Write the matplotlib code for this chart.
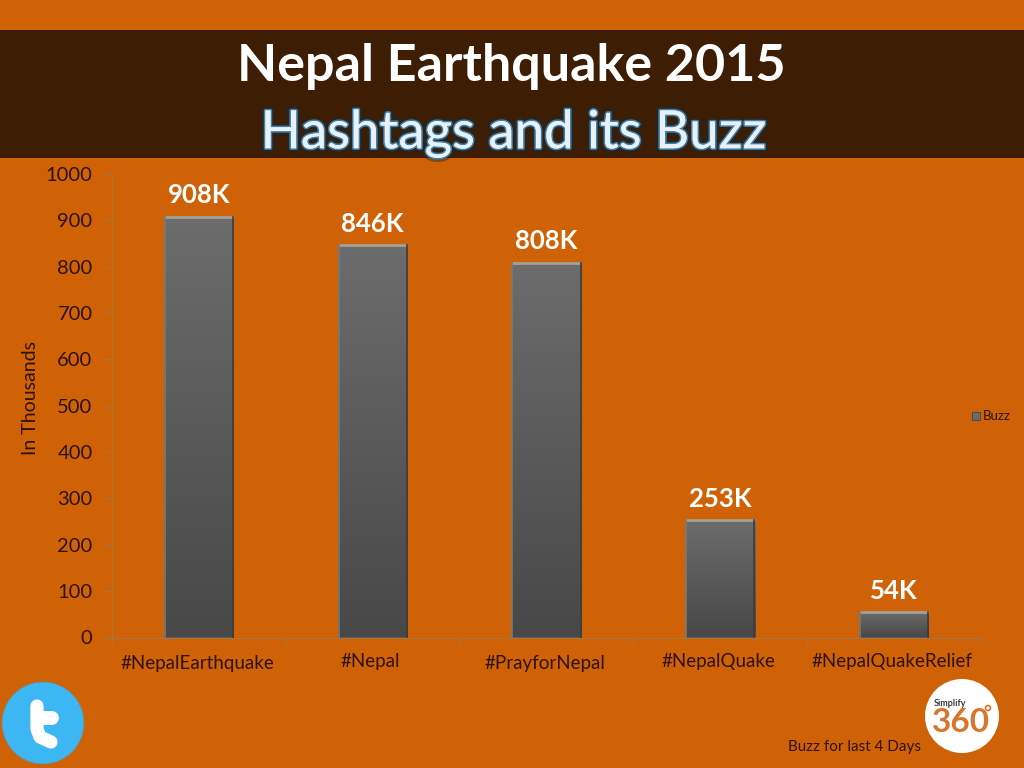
#!/usr/bin/env python

import matplotlib as mpl
mpl.use('Agg')
import matplotlib.pyplot as plt
import matplotlib.patheffects as pe
from matplotlib.patches import Circle, Rectangle
import numpy as np

categories = ['#NepalEarthquake', '#Nepal', '#PrayforNepal', '#NepalQuake', '#NepalQuakeRelief']
buzz = [908, 846, 808, 253, 54]
bar_labels = ['908K', '846K', '808K', '253K', '54K']
yticks = [0, 100, 200, 300, 400, 500, 600, 700, 800, 900, 1000]

ORANGE = '#CF6207'
BROWN = '#3D1D03'
DARK = '#2E1204'
plt.rcParams['font.family'] = ['Lato', 'DejaVu Sans']

fig = plt.figure(figsize=(10.24, 7.68), dpi=100, facecolor=ORANGE)

# overlay in pixel coords for the slide stuff
bg = fig.add_axes([0, 0, 1, 1], zorder=0)
bg.set_xlim(0, 1024)
bg.set_ylim(768, 0)
bg.axis('off')
bg.add_patch(Rectangle((0, 30), 1024, 128, color=BROWN, lw=0))

bg.text(511.5, 67, 'Nepal Earthquake 2015', color='white', fontsize=37.5, fontweight='bold',
        ha='center', va='center')
bg.text(513.5, 134, 'Hashtags and its Buzz', color='#E8F1F7', fontsize=38,
        ha='center', va='center',
        path_effects=[pe.withStroke(linewidth=6, foreground='#1E2A30', alpha=0.45),
                      pe.withStroke(linewidth=2.4, foreground='#3F7FA8'), pe.Normal()])

# chart
ax = fig.add_axes([112 / 1024, 1 - 637.5 / 768, (981 - 112) / 1024, 463.5 / 768], zorder=1)
ax.patch.set_alpha(0)
x = np.arange(len(categories))
bars = ax.bar(x, buzz, width=0.4, color='#5A5A5A', linewidth=0)

# gradient and bevel on each bar
grad = np.linspace(0, 1, 64).reshape(-1, 1)
cmap = mpl.colors.LinearSegmentedColormap.from_list('barshade', ['#6C6C6C', '#484848'])
for b, v in zip(bars, buzz):
    x0 = b.get_x()
    x1 = x0 + b.get_width()
    im = ax.imshow(grad, cmap=cmap, extent=[x0, x1, 0, v], origin='upper', aspect='auto', zorder=2)
    ax.plot([x0, x1], [v, v], color='#A8A090', lw=2, zorder=3, solid_capstyle='butt')
    ax.plot([x0 + 0.004, x0 + 0.004], [0, v], color='#7A7A7A', lw=1.2, zorder=3)
    ax.plot([x1 - 0.004, x1 - 0.004], [0, v], color='#3C3C3C', lw=1.2, zorder=3)

for i, v in enumerate(buzz):
    ax.annotate(bar_labels[i], (x[i], v), xytext=(0, 7), textcoords='offset points',
                ha='center', va='bottom', color='white', fontsize=18.5, fontweight='bold')

ax.set_xlim(-0.5, 4.5)
ax.set_ylim(0, 1000)
ax.set_yticks(yticks)
ax.set_xticks(np.arange(-0.5, 5, 1))
ax.set_xticklabels([])
ax.tick_params(axis='both', color='#A8743F', length=4, width=1, labelcolor=DARK, labelsize=14.5, pad=10)
for s in ['top', 'right']:
    ax.spines[s].set_visible(False)
for s in ['left', 'bottom']:
    ax.spines[s].set_color('#A8743F')

# category labels sit a little unevenly in the original
label_y = [663, 661, 663, 661, 661]
for i, c in enumerate(categories):
    px = 112 + (i + 0.5) * (981 - 112) / 5
    bg.text(px - 2, label_y[i], c, color=DARK, fontsize=13.5, ha='center', va='center', zorder=5)

bg.text(30, 398, 'In Thousands', color=DARK, fontsize=14, rotation=90, ha='center', va='center')

# legend
bg.add_patch(Rectangle((972, 412), 8, 8, facecolor='#6A6A6A', edgecolor='#3A4A50', lw=0.6))
bg.text(983, 416, 'Buzz', color=DARK, fontsize=9.5, ha='left', va='center')

bg.text(854, 747, 'Buzz for last 4 Days', color=DARK, fontsize=11, ha='center', va='center')

# twitter logo
bg.add_patch(Circle((43, 723), 41, facecolor='#3DB7F4', edgecolor='#7A8A80', lw=0.6))
bg.plot([37, 37, 40, 51], [706, 729, 737, 742], color='white', lw=9.5,
        solid_capstyle='round', solid_joinstyle='round')
bg.plot([38, 52], [718, 718], color='white', lw=10, solid_capstyle='round')

# simplify360 logo
bg.add_patch(Circle((962, 716), 37, facecolor='white', edgecolor='none'))
bg.text(934, 704, 'Simplify', color='#3A3A3A', fontsize=6.5, fontweight='bold', ha='left', va='center')
bg.text(932, 722, '360', color='#D9762B', fontsize=24, fontweight='bold', ha='left', va='center')
bg.add_patch(Circle((988, 708), 2.5, facecolor='white', edgecolor='#D9762B', lw=1.2))

fig.savefig('out.png', dpi=100, facecolor=ORANGE)
